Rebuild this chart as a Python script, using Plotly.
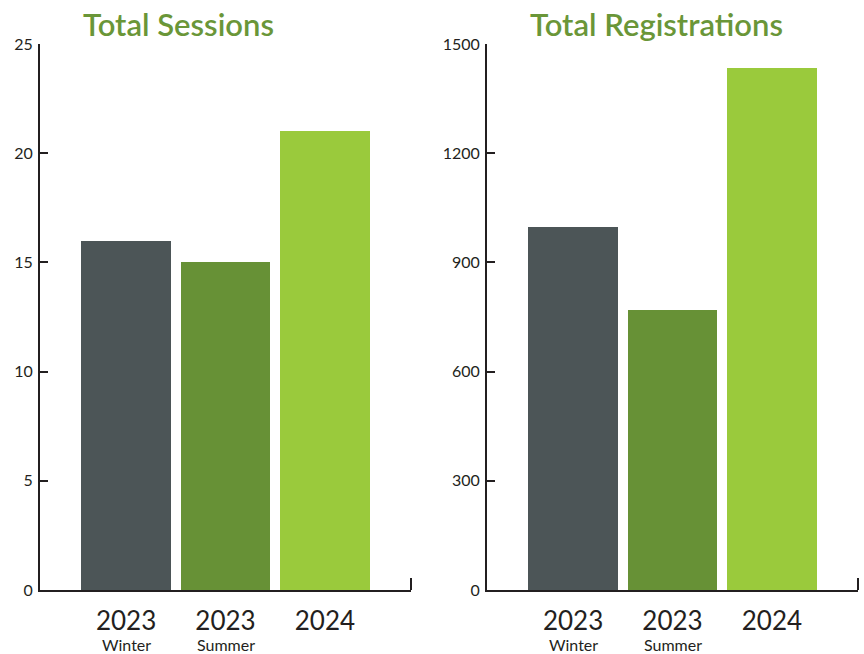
import plotly.graph_objects as go

categories = ["2023 Winter", "2023 Summer", "2024"]
tick_main = ["2023", "2023", "2024"]
tick_sub = ["Winter", "Summer", ""]
sessions = [16, 15, 21]
registrations = [997, 769, 1434]
bar_colors = ["#4c5557", "#679136", "#9aca3c"]

W, H = 864, 654
FONT = "Lato"
DARK = "#231f20"
GREEN = "#6a9638"

fig = go.Figure()
xpos = list(range(len(categories)))
fig.add_trace(go.Bar(x=xpos, y=sessions, marker_color=bar_colors, width=0.905,
                     marker_line_width=0, xaxis="x", yaxis="y", showlegend=False))
fig.add_trace(go.Bar(x=xpos, y=registrations, marker_color=bar_colors, width=0.905,
                     marker_line_width=0, xaxis="x2", yaxis="y2", showlegend=False))

ydom = [(H - 590) / H, (H - 44) / H]
xdom1 = [40 / W, 411 / W]
xdom2 = [487 / W, 858 / W]

common_x = dict(range=[-0.866, 2.866], showline=True, linecolor=DARK, linewidth=2,
                tickmode="array", tickvals=xpos, ticktext=tick_main, ticks="",
                tickfont=dict(family=FONT, size=26, color=DARK), showgrid=False,
                zeroline=False, fixedrange=True, automargin=False, ticklabelstandoff=7)
common_y = dict(showline=True, linecolor=DARK, linewidth=2, ticks="inside", ticklen=8,
                tickwidth=2, tickcolor=DARK, showgrid=False, zeroline=False,
                tickfont=dict(family=FONT, size=16, color=DARK), domain=ydom,
                automargin=False, ticklabelstandoff=2, fixedrange=True)

fig.update_layout(
    width=W, height=H, margin=dict(l=0, r=0, t=0, b=0),
    paper_bgcolor="white", plot_bgcolor="white", bargap=0,
    xaxis=dict(domain=xdom1, anchor="y", **common_x),
    yaxis=dict(anchor="x", range=[0, 25], tickvals=[0, 5, 10, 15, 20, 25], **common_y),
    xaxis2=dict(domain=xdom2, anchor="y2", **common_x),
    yaxis2=dict(anchor="x2", range=[0, 1500], tickvals=[0, 300, 600, 900, 1200, 1500], **common_y),
)

# end ticks on x axes
for xr, yr in (("x domain", "y domain"), ("x2 domain", "y2 domain")):
    fig.add_shape(type="line", xref=xr, yref=yr, x0=1, x1=1, y0=0, y1=12 / 546,
                  line=dict(color=DARK, width=2))

# titles
fig.add_annotation(text="Total Sessions", xref="paper", yref="paper", x=178 / W, y=1 - 24 / H,
                   showarrow=False, xanchor="center", yanchor="middle",
                   font=dict(family=FONT, size=31, color=GREEN, weight=600))
fig.add_annotation(text="Total Registrations", xref="paper", yref="paper", x=656 / W, y=1 - 24 / H,
                   showarrow=False, xanchor="center", yanchor="middle",
                   font=dict(family=FONT, size=31, color=GREEN, weight=600))

# sub labels
for xa in ("x", "x2"):
    for i, s in enumerate(tick_sub):
        if s:
            fig.add_annotation(text=s, xref=xa, yref="paper", x=xpos[i], y=1 - 644 / H,
                               showarrow=False, xanchor="center", yanchor="middle",
                               font=dict(family=FONT, size=16, color=DARK))

fig.write_html("out.html", config={"displayModeBar": False},
               post_script="document.body.style.margin='0px';")
